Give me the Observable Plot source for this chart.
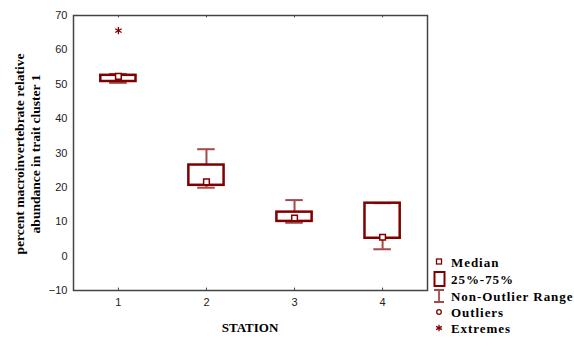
<!DOCTYPE html>
<html>
<head>
<meta charset="utf-8">
<script src="https://cdn.jsdelivr.net/npm/d3@7"></script>
<script src="https://cdn.jsdelivr.net/npm/@observablehq/plot@0.6"></script>
<style>
  html, body { margin: 0; padding: 0; background: #fff; }
  #chart { position: relative; width: 574px; height: 338px; }
</style>
</head>
<body>
<div id="chart"></div>
<script>
const stations = [1, 2, 3, 4];
const medians = [52.3, 21.6, 11.1, 5.5];
const q1 = [50.8, 20.6, 10.1, 5.2];
const q3 = [52.6, 26.5, 12.8, 15.4];
const whiskerLow = [50.4, 19.9, 9.7, 2.0];
const whiskerHigh = [53.0, 31.1, 16.3, 15.4];
const extremeStation = [1];
const extremeValue = [65.6];
const yTicks = [-10, 0, 10, 20, 30, 40, 50, 60, 70];
const yLabelLines = ["percent macroinvertebrate relative", "abundance in trait cluster 1"];
const xLabel = "STATION";
const legendItems = ["Median", "25%-75%", "Non-Outlier Range", "Outliers", "Extremes"];

const rows = stations.map((s, i) => ({
  station: s, median: medians[i], q1: q1[i], q3: q3[i], lo: whiskerLow[i], hi: whiskerHigh[i]
}));
const extremes = extremeStation.map((s, i) => ({station: s, value: extremeValue[i]}));

const dark = "#800000";
const whisk = "#a54a4a";
const boxHalf = 0.2, capHalf = 0.1;

const plot = Plot.plot({
  width: 574,
  height: 338,
  marginLeft: 73,
  marginRight: 147,
  marginTop: 15,
  marginBottom: 48,
  style: {fontFamily: "'Liberation Sans', Arial, sans-serif", fontSize: "11px", color: "#222", background: "#fff"},
  x: {domain: [0.49, 4.51], ticks: stations, tickFormat: d => String(d), tickSize: 0, tickPadding: 8, label: null},
  y: {domain: [-10, 70], ticks: yTicks, tickSize: 0, tickPadding: 6, label: null},
  marks: [
    Plot.ruleX(stations, {x: d => d, y1: -10, y2: -9.3, stroke: "#444", strokeWidth: 1}),
    Plot.ruleX(stations, {x: d => d, y1: 70, y2: 69.3, stroke: "#444", strokeWidth: 1}),
    Plot.ruleX(rows, {x: "station", y1: "q3", y2: "hi", stroke: whisk, strokeWidth: 2}),
    Plot.ruleX(rows, {x: "station", y1: "lo", y2: "q1", stroke: whisk, strokeWidth: 2}),
    Plot.ruleY(rows, {y: "hi", x1: d => d.station - capHalf, x2: d => d.station + capHalf, stroke: whisk, strokeWidth: 2}),
    Plot.ruleY(rows, {y: "lo", x1: d => d.station - capHalf, x2: d => d.station + capHalf, stroke: whisk, strokeWidth: 2}),
    Plot.rect(rows, {x1: d => d.station - boxHalf, x2: d => d.station + boxHalf, y1: "q1", y2: "q3", fill: "none", stroke: dark, strokeWidth: 2.5}),
    Plot.dot(rows, {x: "station", y: "median", symbol: "square", r: 3.2, fill: "#fff", stroke: dark, strokeWidth: 1.5}),
    Plot.dot(extremes, {x: "station", y: "value", symbol: "asterisk", r: 3.5, stroke: dark, strokeWidth: 1.3}),
    Plot.frame({stroke: "#444", strokeWidth: 1.5}),
    Plot.axisX({tickSize: 0, tickPadding: 8, tickFormat: d => String(d), fontSize: 11}),
    Plot.axisY({tickSize: 0, tickPadding: 6, ticks: yTicks, fontSize: 11})
  ]
});

document.getElementById("chart").appendChild(plot);

const svg = d3.select(plot);
const serif = "'Liberation Serif', 'Times New Roman', serif";

const yl = svg.append("text")
  .attr("transform", "translate(28,154) rotate(-90)")
  .attr("text-anchor", "middle")
  .attr("font-family", serif)
  .attr("font-weight", "bold")
  .attr("font-size", 13.5)
  .attr("fill", "#000");
yLabelLines.forEach((t, i) => {
  yl.append("tspan").attr("x", 0).attr("dy", i === 0 ? "-0.3em" : "1.2em").text(t);
});

svg.append("text")
  .attr("x", 250).attr("y", 332)
  .attr("text-anchor", "middle")
  .attr("font-family", serif)
  .attr("font-weight", "bold")
  .attr("font-size", 13)
  .attr("fill", "#000")
  .text(xLabel);

const lg = svg.append("g").attr("text-anchor", "start");
const lx = 439, tx = 451;
const ly = [262, 279, 296, 312, 328];
legendItems.forEach((t, i) => {
  lg.append("text")
    .attr("x", tx).attr("y", ly[i] + 4.5)
    .attr("text-anchor", "start")
    .attr("font-family", serif)
    .attr("font-weight", "bold")
    .attr("font-size", 13)
    .attr("letter-spacing", "0.95px")
    .attr("fill", "#000")
    .text(t);
});
lg.append("rect").attr("x", lx - 2.5).attr("y", ly[0] - 3).attr("width", 5).attr("height", 5)
  .attr("fill", "#fff").attr("stroke", dark).attr("stroke-width", 1.3);
lg.append("rect").attr("x", lx - 4.5).attr("y", ly[1] - 7).attr("width", 10).attr("height", 14)
  .attr("fill", "none").attr("stroke", dark).attr("stroke-width", 2);
lg.append("path").attr("d", `M${lx - 5},${ly[2] - 6}H${lx + 5}M${lx},${ly[2] - 6}V${ly[2] + 6}M${lx - 5},${ly[2] + 6}H${lx + 5}`)
  .attr("fill", "none").attr("stroke", whisk).attr("stroke-width", 1.8);
lg.append("circle").attr("cx", lx).attr("cy", ly[3]).attr("r", 2.3)
  .attr("fill", "#fff").attr("stroke", dark).attr("stroke-width", 1.3);
const ast = d3.symbol(d3.symbolAsterisk, 30)();
lg.append("path").attr("d", ast).attr("transform", `translate(${lx},${ly[4]})`)
  .attr("fill", "none").attr("stroke", dark).attr("stroke-width", 1.3);
</script>
</body>
</html>
